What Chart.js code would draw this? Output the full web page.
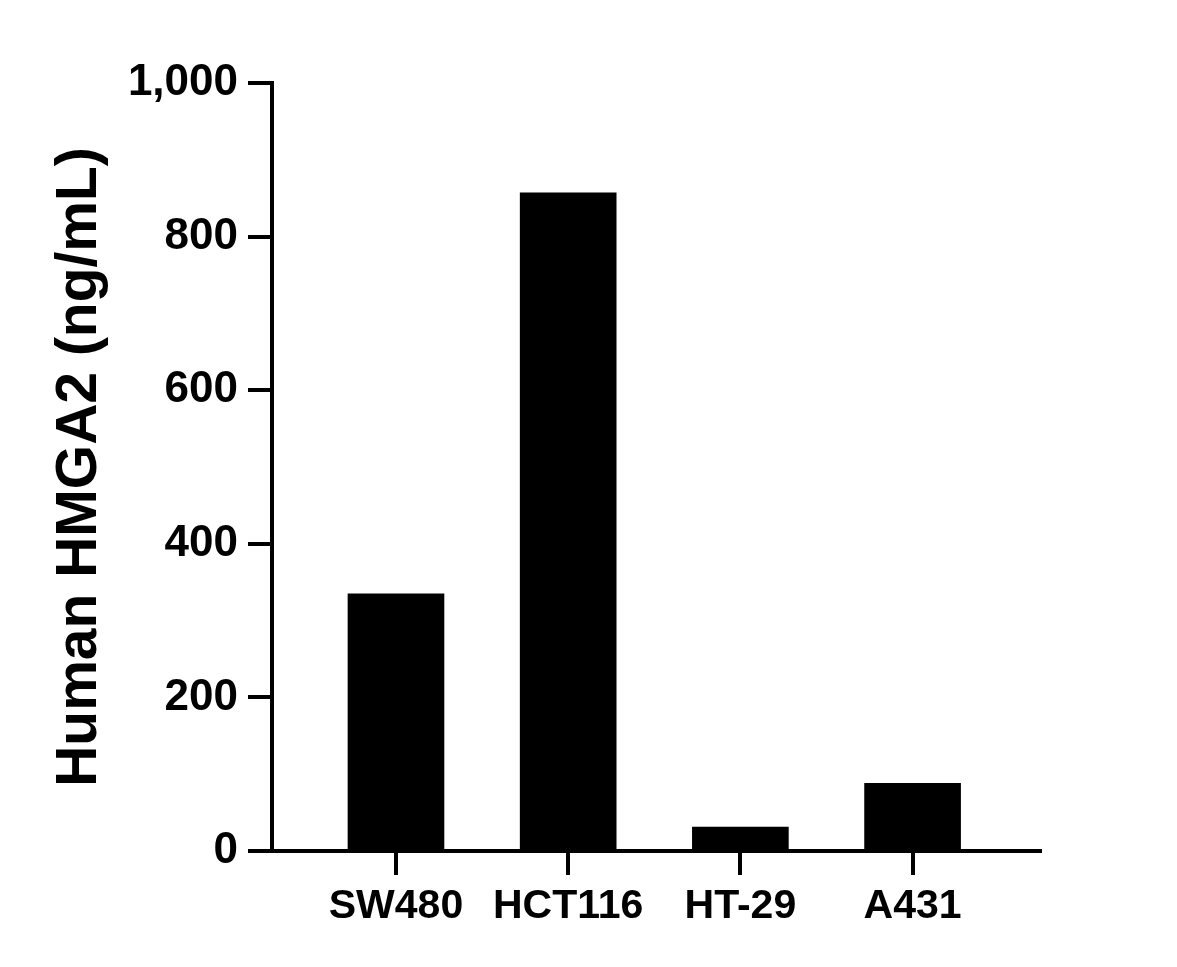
<!DOCTYPE html>
<html>
<head>
<meta charset="utf-8">
<script src="https://cdn.jsdelivr.net/npm/chart.js@4/dist/chart.umd.min.js"></script>
<style>
  html,body{margin:0;padding:0;background:#fff}
  canvas{display:block}
</style>
</head>
<body>
<canvas id="barChart" width="1177" height="967"></canvas>
<script>
// data
const cellLines = ['SW480','HCT116','HT-29','A431'];
const hmga2 = [335, 857, 31, 88];
const yTicks = [0, 200, 400, 600, 800, 1000];
const yTitle = 'Human HMGA2 (ng/mL)';

const FONT = '"Liberation Sans", Arial, Helvetica, sans-serif';

document.addEventListener('DOMContentLoaded',()=>{
  const ctx = document.getElementById('barChart').getContext('2d');
  new Chart(ctx,{
    type:'bar',
    data:{
      datasets:[{
        data: cellLines.map((c,i)=>({x:i, y:hmga2[i]})),
        backgroundColor:'#000',
        borderWidth:0,
        barThickness:96
      }]
    },
    options:{
      responsive:false,
      animation:false,
      layout:{padding:{top:83,right:137,left:0,bottom:0}},
      plugins:{legend:{display:false},tooltip:{enabled:false}},
      scales:{
        x:{
          type:'linear',
          offset:false,
          min:-0.72, max:3.74,
          afterBuildTicks:s=>{ s.ticks = cellLines.map((c,i)=>({value:i})); },
          afterFit:s=>{ s.height = 116; },
          grid:{display:true,offset:false,drawOnChartArea:false,drawTicks:true,tickLength:24,lineWidth:4,color:'#000'},
          border:{display:true,width:4,color:'#000'},
          ticks:{
            autoSkip:false, maxRotation:0, padding:7, color:'#000',
            font:{family:FONT,size:41,weight:'bold'},
            callback:v=>cellLines[v]
          }
        },
        y:{
          min:0, max:1000,
          afterBuildTicks:s=>{ s.ticks = yTicks.map(v=>({value:v})); },
          afterFit:s=>{ s.width = 272; },
          grid:{display:true,drawOnChartArea:false,drawTicks:true,tickLength:24,lineWidth:4,color:'#000'},
          border:{display:true,width:4,color:'#000'},
          ticks:{
            padding:10, color:'#000',
            font:{family:FONT,size:44,weight:'bold'},
            callback:v=>v.toLocaleString('en-US')
          },
          title:{
            display:true, text:yTitle, color:'#000',
            font:{family:FONT,size:57,weight:'bold'},
            padding:{top:46,bottom:0}
          }
        }
      }
    }
  });
});
</script>
</body>
</html>
